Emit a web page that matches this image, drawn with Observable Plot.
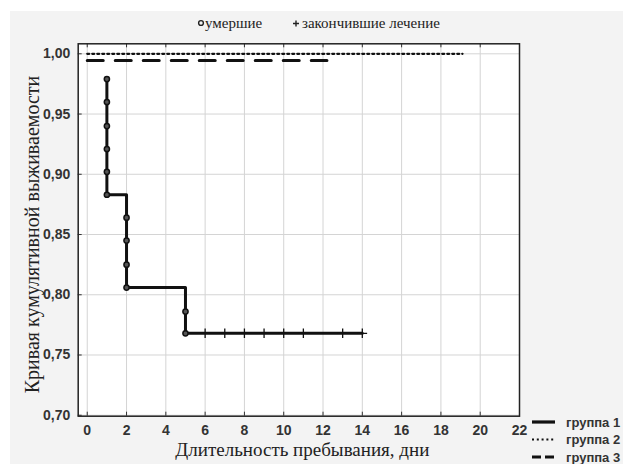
<!DOCTYPE html>
<html>
<head>
<meta charset="utf-8">
<script src="https://cdn.jsdelivr.net/npm/d3@7"></script>
<script src="https://cdn.jsdelivr.net/npm/@observablehq/plot@0.6"></script>
<style>
  html, body { margin: 0; padding: 0; background: #ffffff; }
  #bg { position: absolute; left: 10px; top: 11px; width: 613px; height: 453px; background: #f3f3f3; }
  #chart { position: absolute; left: 0; top: 0; }
</style>
</head>
<body>
<div id="bg"></div>
<div id="chart"></div>
<script>
// ---- data ----
const xTicks = [0, 2, 4, 6, 8, 10, 12, 14, 16, 18, 20, 22];
const yTicks = [0.70, 0.75, 0.80, 0.85, 0.90, 0.95, 1.00];

// group 1: step curve
const g1Time = [1, 1, 2, 5, 14];
const g1Surv = [0.979, 0.883, 0.806, 0.768, 0.768];
// group 1: deaths (circles)
const g1DeathTime = [1, 1, 1, 1, 1, 1, 2, 2, 2, 2, 5, 5];
const g1DeathSurv = [0.979, 0.960, 0.940, 0.921, 0.902, 0.883, 0.864, 0.845, 0.825, 0.806, 0.786, 0.768];
// group 1: censored (completed treatment)
const g1CensTime = [6, 7, 8, 9, 10, 11, 13, 14];
const g1CensSurv = [0.768, 0.768, 0.768, 0.768, 0.768, 0.768, 0.768, 0.768];

// group 2 (dotted) and group 3 (dashed)
const g2Time = [0, 19.1];
const g2Surv = [1.0, 1.0];
const g3Time = [0, 12.2];
const g3Surv = [0.9945, 0.9945];

const groupNames = ["группа 1", "группа 2", "группа 3"];
const legendTop = ["умершие", "закончившие лечение"];
const xTitle = "Длительность пребывания, дни";
const yTitle = "Кривая кумулятивной выживаемости";

// ---- build ----
const W = 623, H = 464;
const mL = 77.7, mR = 104, mT = 43.3, mB = 48.3;
const pw = W - mL - mR, ph = H - mT - mB;

const zip = (xs, ys) => xs.map((x, i) => ({x, y: ys[i]}));
const g1 = zip(g1Time, g1Surv);
const g1d = zip(g1DeathTime, g1DeathSurv);
const g1c = zip(g1CensTime, g1CensSurv);
const g2 = zip(g2Time, g2Surv);
const g3 = zip(g3Time, g3Surv);

const fmt = d => d3.format(".2f")(d).replace(".", ",");
const tickFont = {fontSize: 14, fontWeight: "bold", fill: "#333", fontFamily: "Liberation Sans, Arial, sans-serif"};

const plot = Plot.plot({
  width: W, height: H,
  marginLeft: mL, marginRight: mR, marginTop: mT, marginBottom: mB,
  style: {background: "transparent", fontFamily: "Liberation Sans, Arial, sans-serif"},
  x: {domain: [-0.46, 22]},
  y: {domain: [0.6992, 1.0083]},
  marks: [
    Plot.frame({fill: "white"}),
    Plot.ruleX(xTicks, {x: d => d, stroke: "#d4d4d4", strokeWidth: 1}),
    Plot.ruleY(yTicks, {y: d => d, stroke: "#d4d4d4", strokeWidth: 1}),
    // inner tick marks
    Plot.ruleX(xTicks, {x: d => d, stroke: "#333", insetTop: ph - 4}),
    Plot.ruleX(xTicks, {x: d => d, stroke: "#333", insetBottom: ph - 4}),
    Plot.ruleY(yTicks, {y: d => d, stroke: "#333", insetRight: pw - 4}),
    Plot.axisX({ticks: xTicks, tickSize: 0, tickPadding: 9, tickFormat: d => String(d), label: null, ...tickFont}),
    Plot.axisY({ticks: yTicks, tickSize: 0, tickPadding: 8, tickFormat: fmt, label: null, ...tickFont}),
    // group 2 dotted
    Plot.line(g2, {x: "x", y: "y", stroke: "#111", strokeWidth: 2.2, strokeDasharray: "2,3"}),
    // group 3 dashed
    Plot.line(g3, {x: "x", y: "y", stroke: "#111", strokeWidth: 3, strokeDasharray: "16,12"}),
    // group 1 step
    Plot.line(g1, {x: "x", y: "y", curve: "step-after", stroke: "#111", strokeWidth: 3}),
    Plot.dot(g1d, {x: "x", y: "y", r: 2.6, stroke: "#111", strokeWidth: 1.5, fill: "#555"}),
    Plot.dot(g1c, {x: "x", y: "y", symbol: "plus", r: 3.2, stroke: "#111", strokeWidth: 1.3}),
    Plot.frame({stroke: "#222", strokeWidth: 1.5})
  ]
});

const svg = d3.select(plot);
const serif = "Liberation Serif";

// axis titles
svg.append("text")
  .attr("x", mL + pw / 2 + 4).attr("y", 456)
  .attr("text-anchor", "middle")
  .attr("font-family", serif).attr("font-size", 19).attr("fill", "#222")
  .text(xTitle);
svg.append("text")
  .attr("transform", `translate(39,${mT + ph / 2 + 5}) rotate(-90)`)
  .attr("text-anchor", "middle")
  .attr("font-family", serif).attr("font-size", 20).attr("fill", "#222")
  .text(yTitle);

// top legend
svg.append("circle").attr("cx", 201).attr("cy", 23).attr("r", 2.4).attr("fill", "none").attr("stroke", "#222").attr("stroke-width", 1.4);
svg.append("text").attr("x", 205).attr("y", 28)
  .attr("text-anchor", "start").attr("font-family", serif).attr("font-size", 15).attr("fill", "#222")
  .text(legendTop[0]);
svg.append("path").attr("d", "M293,23.5h6M296,20.5v6").attr("stroke", "#222").attr("stroke-width", 1.4);
svg.append("text").attr("x", 302).attr("y", 28)
  .attr("text-anchor", "start").attr("font-family", serif).attr("font-size", 15).attr("fill", "#222")
  .text(legendTop[1]);

// bottom-right legend
const dashes = [null, "2,2.8", "9,4"];
const widths = [3.2, 2, 3];
groupNames.forEach((name, i) => {
  const yy = 422 + i * 17.5;
  svg.append("line").attr("x1", 532).attr("x2", 555).attr("y1", yy).attr("y2", yy)
    .attr("stroke", "#111").attr("stroke-width", widths[i])
    .attr("stroke-dasharray", dashes[i]);
  svg.append("text").attr("x", 566).attr("y", yy + 4.5).attr("text-anchor", "start")
    .attr("font-family", "Liberation Sans, Arial, sans-serif").attr("font-size", 13)
    .attr("font-weight", "bold").attr("fill", "#333").text(name);
});

document.getElementById("chart").appendChild(plot);
</script>
</body>
</html>
